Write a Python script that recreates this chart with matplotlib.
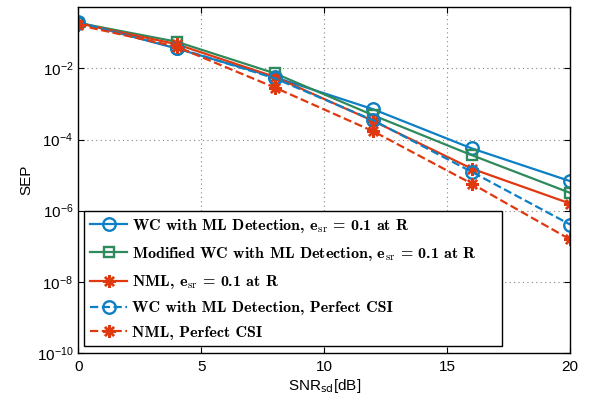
import matplotlib
matplotlib.use("Agg")
import matplotlib.pyplot as plt
from matplotlib.font_manager import FontProperties
import numpy as np

plt.rcParams['font.family'] = ['Liberation Sans', 'DejaVu Sans']

# SNR_sd points (dB)
snr_db = [0, 4, 8, 12, 16, 20]

# SEP values (log10 scale)
wc_ml_err = [-0.70, -1.44, -2.25, -3.15, -4.25, -5.17]
mod_wc_err = [-0.72, -1.25, -2.14, -3.32, -4.44, -5.50]
nml_err = [-0.73, -1.32, -2.24, -3.48, -4.82, -5.80]
wc_ml_csi = [-0.71, -1.42, -2.28, -3.46, -4.91, -6.39]
nml_csi = [-0.78, -1.39, -2.54, -3.77, -5.24, -6.81]

labels = [
    r'WC with ML Detection, e$_{\mathrm{sr}}$ = 0.1 at R',
    r'Modified WC with ML Detection, e$_{\mathrm{sr}}$ = 0.1 at R',
    r'NML, e$_{\mathrm{sr}}$ = 0.1 at R',
    'WC with ML Detection, Perfect CSI',
    'NML, Perfect CSI',
]

blue = '#0d7fc4'
green = '#2e8a5c'
red = '#e0380f'
star = (8, 2, 0)

fig = plt.figure(figsize=(5.92, 4.01), dpi=100)
ax = fig.add_axes([0.132, 0.120, 0.831, 0.862])

series = [
    (wc_ml_err, blue, '-', 'o'),
    (mod_wc_err, green, '-', 's'),
    (nml_err, red, '-', star),
    (wc_ml_csi, blue, '--', 'o'),
    (nml_csi, red, '--', star),
]
for (vals, col, ls, mk), lab in zip(series, labels):
    ms = 9 if mk == 'o' else (7.5 if mk == 's' else 9)
    ax.semilogy(snr_db, 10.0 ** np.array(vals), linestyle=ls, color=col,
                marker=mk, markersize=ms, markerfacecolor='none',
                markeredgecolor=col, markeredgewidth=1.7, linewidth=1.6,
                label=lab)

ax.set_xlim(0, 20)
ax.set_ylim(1e-10, 10 ** -0.28)
ax.set_xticks([0, 5, 10, 15, 20])
ax.set_yticks([1e-10, 1e-8, 1e-6, 1e-4, 1e-2])
ax.minorticks_off()
ax.tick_params(direction='in', top=True, right=True, labelsize=11, length=4)
ax.tick_params(axis='x', pad=5)
ax.grid(True, which='major', linestyle=(0, (1, 3)), color='#888888', linewidth=0.8)
for sp in ax.spines.values():
    sp.set_linewidth(1.0)

ax.set_xlabel(r'SNR$_{\mathrm{sd}}$[dB]', fontsize=11, labelpad=2)
ax.set_ylabel('SEP', fontsize=11, labelpad=2)

leg_font = FontProperties(family=['cmb10', 'DejaVu Serif'], size=11.5,
                          math_fontfamily='cm')
leg = ax.legend(loc='lower left', bbox_to_anchor=(0.012, 0.02, 0.85, 0.3),
                mode='expand', prop=leg_font,
                fancybox=False, framealpha=1, edgecolor='black',
                handlelength=2.3, handletextpad=0.3, labelspacing=0.63,
                borderpad=0.4, borderaxespad=0)
leg.get_frame().set_linewidth(1.0)

fig.savefig('out.png', dpi=100)
